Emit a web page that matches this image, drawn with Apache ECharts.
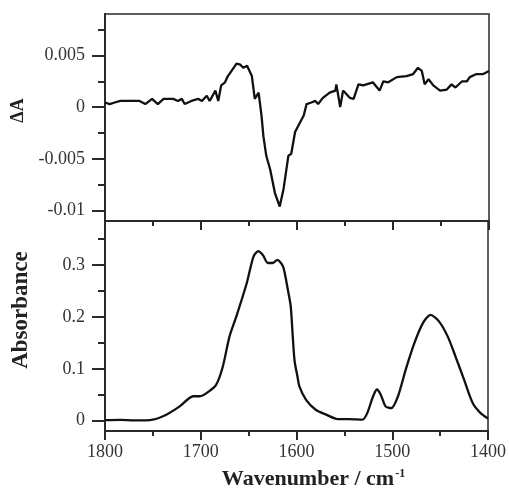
<!DOCTYPE html>
<html>
<head>
<meta charset="utf-8">
<script src="https://cdn.jsdelivr.net/npm/echarts@6/dist/echarts.min.js"></script>
<style>
  html, body { margin: 0; padding: 0; background: #fff; }
  #chart { width: 509px; height: 495px; }
</style>
</head>
<body>
<div id="chart"></div>
<script>
// difference spectrum (top panel)
var diffWavenumber = [
  1800, 1795, 1790, 1784, 1774, 1764, 1758, 1751, 1745, 1739, 1729, 1724, 1720, 1717,
  1710, 1703, 1699, 1694, 1691, 1685, 1682, 1679, 1675, 1672, 1666, 1663, 1659, 1656,
  1652, 1647, 1644, 1640, 1637, 1635, 1632, 1628, 1623, 1618, 1614, 1609, 1606, 1602,
  1597, 1593, 1590, 1585, 1581, 1578, 1573, 1566, 1560, 1559, 1555, 1552, 1545, 1541,
  1536, 1531, 1521, 1514, 1510, 1505, 1496, 1486, 1479, 1474, 1470, 1467, 1463, 1458,
  1451, 1444, 1439, 1435, 1428, 1423, 1420, 1413, 1406, 1400
]
var diffValues = [
  0.00045, 0.0003, 0.00045, 0.0006, 0.0006, 0.0006, 0.0003, 0.0008, 0.0003, 0.0008, 0.0008, 0.0006, 0.0008, 0.0003,
  0.0006, 0.0008, 0.0006, 0.0011, 0.0006, 0.0016, 0.0006, 0.0021, 0.0024, 0.0030, 0.0038, 0.0042, 0.0041, 0.0038,
  0.0040, 0.0030, 0.0008, 0.0014, -0.0008, -0.0028, -0.0047, -0.0060, -0.0083, -0.0096, -0.0079, -0.0047, -0.0045, -0.0024,
  -0.0015, -0.0008, 0.0003, 0.00045, 0.0006, 0.0003, 0.0009, 0.0014, 0.0016, 0.0022, 0.0, 0.0016, 0.0009, 0.0008,
  0.0022, 0.0021, 0.0024, 0.0016, 0.0025, 0.0024, 0.0029, 0.0030, 0.0032, 0.0038, 0.0035, 0.0022, 0.0027, 0.0021,
  0.0016, 0.0017, 0.0022, 0.0019, 0.0025, 0.0025, 0.0029, 0.0032, 0.0032, 0.0035
]

// absorbance spectrum (bottom panel)
var absWavenumber = [
  1800, 1784, 1770, 1750, 1736, 1722, 1708, 1701, 1694, 1684, 1677, 1670, 1663, 1652,
  1645, 1640, 1635, 1630, 1625, 1620, 1614, 1609, 1606, 1604, 1602, 1599, 1597, 1590,
  1580, 1569, 1557, 1545, 1531, 1526, 1520, 1516, 1512, 1507, 1501, 1494, 1486, 1477,
  1468, 1460, 1451, 1442, 1434, 1425, 1416, 1408, 1400
]
var absValues = [
  0.001, 0.0016, 0.0003, 0.002, 0.0115, 0.0275, 0.047, 0.047, 0.053, 0.069, 0.104, 0.162, 0.2, 0.265,
  0.316, 0.327, 0.319, 0.304, 0.304, 0.31, 0.297, 0.252, 0.22, 0.165, 0.115, 0.085, 0.066, 0.04,
  0.021, 0.0115, 0.003, 0.003, 0.002, 0.015, 0.047, 0.06, 0.05, 0.0275, 0.024, 0.047, 0.098, 0.149,
  0.188, 0.204, 0.191, 0.162, 0.124, 0.079, 0.034, 0.015, 0.004
]

// tick values
var diffMajorTicks = [-0.01, -0.005, 0, 0.005]
var diffMinorTicks = [-0.0075, -0.0025, 0.0025, 0.0075]
var absMajorTicks = [0, 0.1, 0.2, 0.3]
var absMinorTicks = [0.05, 0.15, 0.25, 0.35]

var font = 'Liberation Serif'
var ink = '#2a2a2a'

function pairs(xs, ys) {
  return xs.map(function (x, i) { return [x, ys[i]] })
}

function xAxisFor(gridIndex, withLabels) {
  return {
    type: 'value',
    gridIndex: gridIndex,
    position: 'bottom',
    min: 1400,
    max: 1800,
    interval: 100,
    inverse: true,
    axisLine: { show: true, onZero: false, lineStyle: { color: ink, width: 2 } },
    axisTick: { show: true, length: 9, lineStyle: { color: ink, width: 2 } },
    minorTick: { show: true, splitNumber: 2, length: 5, lineStyle: { color: ink, width: 2 } },
    splitLine: { show: false },
    minorSplitLine: { show: false },
    axisLabel: {
      show: withLabels,
      margin: 12,
      color: '#333',
      fontFamily: font,
      fontSize: 18,
      formatter: function (v) { return String(v) }
    }
  }
}

function yAxisFor(gridIndex, min, max, ticks, tickLen, labelled) {
  return {
    type: 'value',
    gridIndex: gridIndex,
    position: 'left',
    min: min,
    max: max,
    axisLine: { show: true, onZero: false, lineStyle: { color: ink, width: 2 } },
    axisTick: { show: true, length: tickLen, customValues: ticks, lineStyle: { color: ink, width: 2 } },
    splitLine: { show: false },
    axisLabel: {
      show: labelled,
      customValues: ticks,
      margin: 20,
      color: '#333',
      fontFamily: font,
      fontSize: 18,
      formatter: function (v) { return String(v) }
    }
  }
}

var chart = echarts.init(document.getElementById('chart'), null, { renderer: 'canvas' })

var topY = yAxisFor(0, -0.011, 0.009, diffMajorTicks, 13, true)
topY.name = 'ΔA'
topY.nameLocation = 'middle'
topY.nameGap = 76
topY.nameTextStyle = { fontFamily: font, fontSize: 18, fontWeight: 'bold', color: '#222', padding: [0, 0, 0, 14] }

var bottomY = yAxisFor(1, -0.02, 0.385, absMajorTicks, 13, true)
bottomY.name = 'Absorbance'
bottomY.nameLocation = 'middle'
bottomY.nameGap = 72
bottomY.nameTextStyle = { fontFamily: font, fontSize: 23, fontWeight: 'bold', color: '#222', padding: [0, 0, 0, 32] }

var bottomX = xAxisFor(1, true)
bottomX.name = 'Wavenumber / cm{sup|-1}'
bottomX.nameLocation = 'middle'
bottomX.nameGap = 37
bottomX.nameTextStyle = {
  fontFamily: font,
  fontSize: 22,
  fontWeight: 'bold',
  color: '#222',
  padding: [0, 0, 0, 34],
  rich: {
    sup: { fontFamily: font, fontSize: 12, fontWeight: 'bold', color: '#222', verticalAlign: 'top', padding: [0, 0, 10, 1] }
  }
}

chart.setOption({
  animation: false,
  backgroundColor: '#fff',
  grid: [
    { left: 105, top: 14, width: 384, height: 207, show: true, borderColor: ink, borderWidth: 1.5, backgroundColor: 'transparent' },
    { left: 105, top: 221, width: 384, height: 210, show: true, borderColor: ink, borderWidth: 1.5, backgroundColor: 'transparent' }
  ],
  xAxis: [xAxisFor(0, false), bottomX],
  yAxis: [
    topY,
    yAxisFor(0, -0.011, 0.009, diffMinorTicks, 7, false),
    bottomY,
    yAxisFor(1, -0.02, 0.385, absMinorTicks, 7, false)
  ],
  series: [
    {
      type: 'line',
      xAxisIndex: 0,
      yAxisIndex: 0,
      data: pairs(diffWavenumber, diffValues),
      showSymbol: false,
      lineStyle: { color: '#111', width: 2.3 }
    },
    {
      type: 'line',
      xAxisIndex: 1,
      yAxisIndex: 2,
      data: pairs(absWavenumber, absValues),
      smooth: 0.25,
      showSymbol: false,
      lineStyle: { color: '#111', width: 2.3 }
    }
  ]
})
</script>
</body>
</html>
